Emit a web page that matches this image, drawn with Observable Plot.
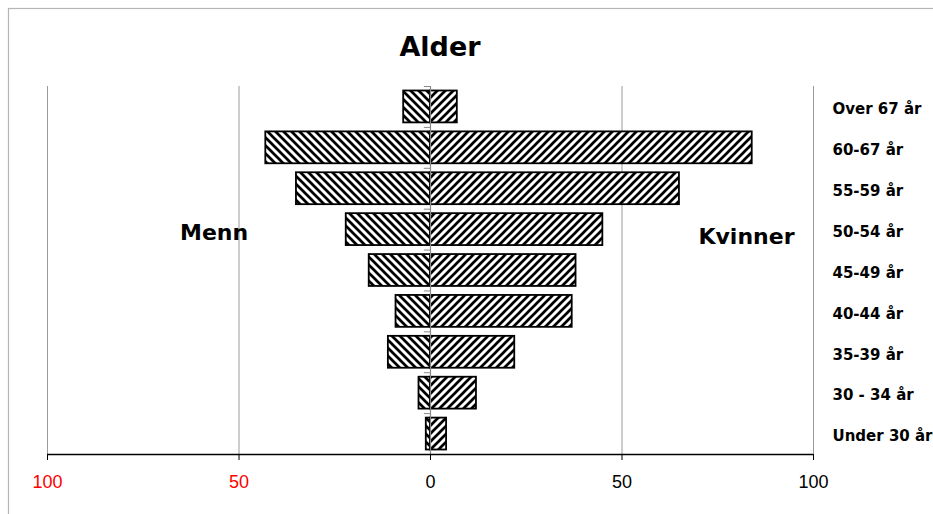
<!DOCTYPE html>
<html>
<head>
<meta charset="utf-8">
<script src="https://cdn.jsdelivr.net/npm/d3@7"></script>
<script src="https://cdn.jsdelivr.net/npm/@observablehq/plot@0.6"></script>
<style>
  html, body { margin: 0; padding: 0; background: #fff; overflow: hidden; }
  #chart svg { display: block; overflow: visible; }
</style>
</head>
<body>
<div id="chart"></div>
<script>
const title = "Alder";
const ageGroups = ["Over 67 år", "60-67 år", "55-59 år", "50-54 år", "45-49 år", "40-44 år", "35-39 år", "30 - 34 år", "Under 30 år"];
const menn = [7, 43, 35, 22, 16, 9, 11, 3, 1.1];
const kvinner = [7, 84, 65, 45, 38, 37, 22, 12, 4.2];
const negTicks = [-100, -50];
const posTicks = [0, 50, 100];
const gridTicks = [-100, -50, 50, 100];
const mennLabel = [{text: "Menn", x: -56.5, group: "50-54 år"}];
const kvinnerLabel = [{text: "Kvinner", x: 82.5, group: "50-54 år"}];

const mennData = ageGroups.map((g, i) => ({group: g, value: menn[i]}));
const kvinnerData = ageGroups.map((g, i) => ({group: g, value: kvinner[i]}));

const FONT = "DejaVu Sans";
const TICKFONT = "Liberation Sans";

const plot = Plot.plot({
  width: 933,
  height: 514,
  marginTop: 86,
  marginBottom: 60,
  marginLeft: 47,
  marginRight: 120,
  style: {fontFamily: FONT, background: "transparent", color: "black"},
  x: {domain: [-100, 100]},
  y: {domain: ageGroups, paddingInner: 0.22, paddingOuter: 0.11, round: false},
  marks: [
    Plot.ruleX(gridTicks, {stroke: "#9a9a9a", strokeWidth: 1}),
    Plot.barX(mennData, {y: "group", x1: d => -d.value, x2: 0, fill: "url(#hatchMenn)", stroke: "black", strokeWidth: 1.8}),
    Plot.barX(kvinnerData, {y: "group", x1: 0, x2: "value", fill: "url(#hatchKvinner)", stroke: "black", strokeWidth: 1.8}),
    Plot.ruleX([0], {stroke: "#8a8a8a", strokeWidth: 1.2}),
    Plot.ruleY(ageGroups, {y: d => d, x1: -1.6, x2: 0, dy: -20.44, stroke: "#8a8a8a", strokeWidth: 1}),
    Plot.ruleY(ageGroups.slice(-1), {y: d => d, x1: -100, x2: 100, dy: 20.44, stroke: "black", strokeWidth: 1.3}),
    Plot.axisY({anchor: "right", tickSize: 0, tickPadding: 19, fontSize: 15, fontWeight: "bold", fontFamily: FONT, dy: 2.5, label: null, textAnchor: "start"}),
    Plot.axisX({ticks: negTicks, tickFormat: d => Math.abs(d), tickSize: 6, tickPadding: 15, fill: "red", stroke: "black", fontSize: 18, fontFamily: TICKFONT, label: null}),
    Plot.axisX({ticks: posTicks, tickFormat: d => Math.abs(d), tickSize: 6, tickPadding: 15, fill: "black", stroke: "black", fontSize: 18, fontFamily: TICKFONT, label: null}),
    Plot.text([title], {text: d => d, frameAnchor: "top", lineAnchor: "bottom", dx: 9.5, dy: -31, fontSize: 27, fontWeight: "bold", fontFamily: FONT, fill: "black"}),
    Plot.text(mennLabel, {text: "text", x: "x", y: "group", dy: 10, lineAnchor: "bottom", fontSize: 22, fontWeight: "bold", fontFamily: FONT, fill: "black"}),
    Plot.text(kvinnerLabel, {text: "text", x: "x", y: "group", dy: 14, lineAnchor: "bottom", fontSize: 22, fontWeight: "bold", fontFamily: FONT, fill: "black"})
  ]
});

document.getElementById("chart").appendChild(plot);

const svg = d3.select(plot);
const defs = svg.insert("defs", ":first-child");
const pK = defs.append("pattern").attr("id", "hatchKvinner").attr("patternUnits", "userSpaceOnUse").attr("width", 8).attr("height", 8);
pK.append("rect").attr("width", 8).attr("height", 8).attr("fill", "white");
pK.append("path").attr("d", "M-2,2 L2,-2 M0,8 L8,0 M6,10 L10,6").attr("stroke", "black").attr("stroke-width", 2.7);
const pM = defs.append("pattern").attr("id", "hatchMenn").attr("patternUnits", "userSpaceOnUse").attr("width", 8).attr("height", 8);
pM.append("rect").attr("width", 8).attr("height", 8).attr("fill", "white");
pM.append("path").attr("d", "M-2,6 L2,10 M0,0 L8,8 M6,-2 L10,2").attr("stroke", "black").attr("stroke-width", 2.7);

// chart border
svg.insert("rect", "defs + *").attr("x", 8.5).attr("y", 8.5).attr("width", 1200).attr("height", 1200).attr("fill", "none").attr("stroke", "#b4b4b4").attr("stroke-width", 1.2);
</script>
</body>
</html>
